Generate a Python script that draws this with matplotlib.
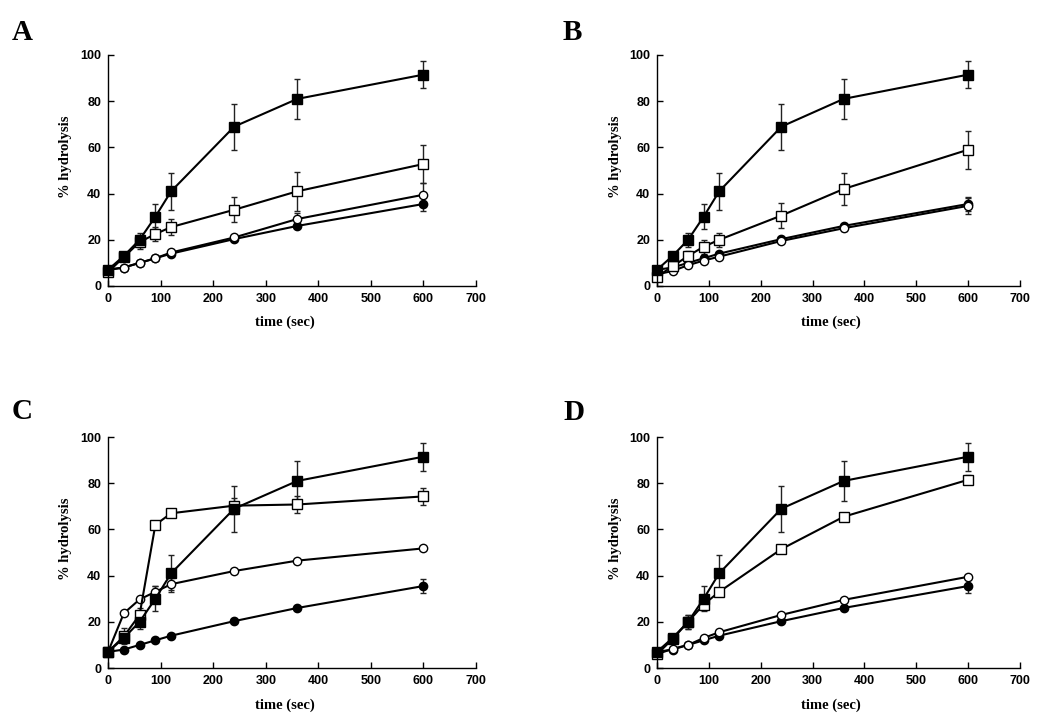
import matplotlib
matplotlib.use("Agg")
import matplotlib.pyplot as plt

# time points (sec)
time = [0, 30, 60, 90, 120, 240, 360, 600]

# filled squares (same in every panel)
fsq = [7, 13, 20, 30, 41, 69, 81, 91.5]
fsq_err = [0, 1, 3, 5.5, 8, 10, 8.5, 6]

# filled circles (same in every panel)
fci = [7, 8, 10, 12, 14, 20.3, 26, 35.5]
fci_err = [0, 0, 0, 0, 0, 0, 0, 3]

# open squares per panel
osq_a = [6, 12.5, 19, 22.5, 25.5, 33, 41, 52.8]
osq_a_err = [0, 1.5, 3, 3, 3.5, 5.5, 8.5, 8.3]
osq_b = [4, 8.5, 13, 17, 20, 30.5, 42, 59]
osq_b_err = [0, 1, 2, 3, 3, 5.5, 7, 8.3]
osq_c = [7, 13.7, 23, 62, 67, 70.3, 70.8, 74.3]
osq_c_err = [0, 3.5, 3, 0, 0, 3.5, 3.5, 3.7]
osq_d = [6, 12.5, 20, 27.5, 33, 51.5, 65.5, 81.5]
osq_d_err = [0, 1, 3, 2, 0, 0, 1.5, 2]

# open circles per panel
oci_a = [7, 8, 10, 12, 14.5, 21, 29, 39.5]
oci_a_err = [0, 0, 0, 0, 0, 1, 2.5, 5]
oci_b = [5, 6.5, 9, 11, 12.7, 19.5, 25, 34.7]
oci_b_err = [0, 0, 0, 0, 0, 0, 1, 3.5]
oci_c = [7, 23.7, 29.7, 33, 36.3, 42, 46.5, 51.8]
oci_c_err = [0, 0, 0, 2.5, 2.5, 0, 0, 0]
oci_d = [6, 8.3, 10, 13, 15.5, 23, 29.5, 39.5]
oci_d_err = [0, 0, 0, 0, 0, 0, 0, 0]

panels = [
    ("A", [0.1029, 0.6017, 0.3505, 0.3217], osq_a, osq_a_err, oci_a, oci_a_err),
    ("B", [0.6257, 0.6017, 0.3457, 0.3217], osq_b, osq_b_err, oci_b, oci_b_err),
    ("C", [0.1029, 0.0696, 0.3505, 0.3217], osq_c, osq_c_err, oci_c, oci_c_err),
    ("D", [0.6257, 0.0696, 0.3457, 0.3217], osq_d, osq_d_err, oci_d, oci_d_err),
]
letter_pos = {"A": (12, 40), "B": (563, 40), "C": (12, 419), "D": (563, 420)}

fig = plt.figure(figsize=(10.5, 7.18), dpi=100)

tick_font = {"family": "Liberation Sans", "weight": "bold", "size": 9}
label_font = {"family": "Liberation Serif", "weight": "bold", "size": 10.5}


def series(ax, y, err, marker, face, ms):
    ax.errorbar(time, y, yerr=err, color="black", lw=1.5, marker=marker,
                ms=ms, mfc=face, mec="black", mew=1.0, capsize=2.2,
                elinewidth=1.0, capthick=1.0, ecolor="#222222", clip_on=False)


for letter, rect, osq, osq_err, oci, oci_err in panels:
    ax = fig.add_axes(rect)
    series(ax, fci, fci_err, "o", "black", 6)
    series(ax, oci, oci_err, "o", "white", 6)
    series(ax, osq, osq_err, "s", "white", 6.5)
    series(ax, fsq, fsq_err, "s", "black", 6.8)

    ax.set_xlim(0, 700)
    ax.set_ylim(0, 100)
    ax.set_xticks(range(0, 701, 100))
    ax.set_yticks(range(0, 101, 20))
    ax.spines["top"].set_visible(False)
    ax.spines["right"].set_visible(False)
    for s in ("left", "bottom"):
        ax.spines[s].set_linewidth(1.0)
    ax.tick_params(direction="in", length=4, width=1.0, pad=5)
    for lab in ax.get_xticklabels() + ax.get_yticklabels():
        lab.set_fontproperties(tick_font)

    ax.set_xlabel("time (sec)", fontdict=label_font)
    ax.set_ylabel("% hydrolysis", fontdict=label_font)
    ax.xaxis.set_label_coords(0.48, -0.13)
    ax.yaxis.set_label_coords(-0.097, 0.56)

    px, py = letter_pos[letter]
    fig.text(px / 1050, 1 - py / 718, letter, family="Liberation Serif",
             weight="bold", size=21, va="baseline", ha="left")

fig.savefig("out.png", dpi=100)
